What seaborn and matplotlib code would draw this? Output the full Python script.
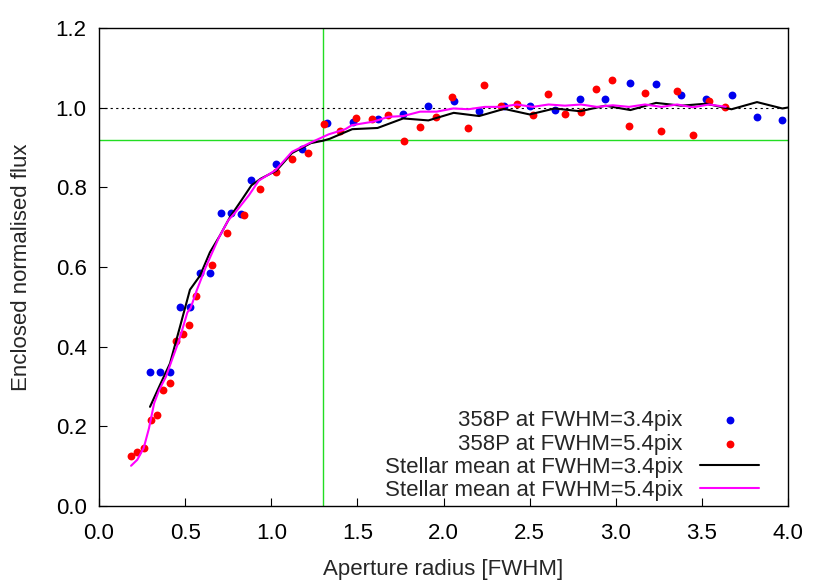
import numpy as np
import pandas as pd
import matplotlib
matplotlib.use("Agg")
import matplotlib.pyplot as plt
from matplotlib.ticker import MultipleLocator, FormatStrFormatter
import seaborn as sns

# Pontos medidos do cometa 358P (raio em FWHM, fluxo normalizado)
raio_34 = [0.296, 0.354, 0.412, 0.470, 0.528, 0.586, 0.646, 0.706, 0.766, 0.824,
           0.885, 1.030, 1.177, 1.324, 1.472, 1.617, 1.766, 1.912, 2.059, 2.207,
           2.352, 2.500, 2.645, 2.794, 2.940, 3.085, 3.234, 3.380, 3.525, 3.672,
           3.820, 3.967]
fluxo_34 = [0.337, 0.337, 0.337, 0.500, 0.499, 0.586, 0.585, 0.736, 0.735, 0.733,
            0.819, 0.858, 0.895, 0.962, 0.964, 0.972, 0.985, 1.005, 1.016, 0.991,
            1.004, 1.004, 0.995, 1.021, 1.021, 1.061, 1.060, 1.032, 1.022, 1.033,
            0.976, 0.968]

raio_54 = [0.186, 0.222, 0.261, 0.300, 0.335, 0.373, 0.412, 0.447, 0.486, 0.524,
           0.561, 0.654, 0.745, 0.840, 0.935, 1.028, 1.121, 1.214, 1.306, 1.398,
           1.492, 1.586, 1.679, 1.772, 1.863, 1.957, 2.050, 2.144, 2.237, 2.331,
           2.424, 2.517, 2.609, 2.703, 2.796, 2.888, 2.981, 3.076, 3.168, 3.263,
           3.355, 3.447, 3.541, 3.635]
fluxo_54 = [0.126, 0.136, 0.146, 0.216, 0.229, 0.292, 0.310, 0.413, 0.432, 0.455,
            0.528, 0.606, 0.686, 0.730, 0.795, 0.839, 0.872, 0.885, 0.959, 0.942,
            0.974, 0.972, 0.981, 0.916, 0.951, 0.976, 1.026, 0.948, 1.057, 1.004,
            1.008, 0.981, 1.035, 0.985, 0.988, 1.046, 1.069, 0.953, 1.036, 0.941,
            1.043, 0.931, 1.017, 1.001]

# Média estelar
raio_est_34 = [0.296, 0.354, 0.412, 0.470, 0.528, 0.586, 0.644, 0.702, 0.760, 0.826,
               0.885, 0.940, 1.030, 1.120, 1.230, 1.300, 1.340, 1.470, 1.617, 1.766,
               1.912, 2.059, 2.207, 2.352, 2.500, 2.645, 2.794, 2.940, 3.085, 3.234,
               3.380, 3.525, 3.672, 3.820, 3.967, 4.050]
fluxo_est_34 = [0.249, 0.304, 0.358, 0.450, 0.543, 0.578, 0.637, 0.679, 0.725, 0.767,
                0.805, 0.822, 0.842, 0.886, 0.911, 0.917, 0.922, 0.946, 0.949, 0.973,
                0.968, 0.987, 0.979, 0.997, 0.983, 0.998, 0.991, 1.005, 0.994, 1.012,
                1.005, 1.010, 0.996, 1.014, 0.998, 1.004]

raio_est_54 = [0.186, 0.222, 0.259, 0.290, 0.320, 0.349, 0.388, 0.426, 0.465, 0.513,
               0.532, 0.567, 0.620, 0.697, 0.750, 0.793, 0.870, 0.928, 1.025, 1.120,
               1.217, 1.333, 1.430, 1.468, 1.593, 1.680, 1.767, 1.864, 1.960, 2.057,
               2.144, 2.240, 2.333, 2.425, 2.518, 2.610, 2.705, 2.798, 2.890, 2.983,
               3.077, 3.170, 3.265, 3.356, 3.448, 3.543, 3.639]
fluxo_est_54 = [0.101, 0.116, 0.145, 0.195, 0.258, 0.291, 0.324, 0.370, 0.416, 0.486,
                0.497, 0.541, 0.600, 0.675, 0.717, 0.738, 0.780, 0.817, 0.843, 0.889,
                0.910, 0.933, 0.946, 0.956, 0.965, 0.977, 0.979, 0.990, 0.990, 0.998,
                0.996, 1.002, 1.002, 1.008, 1.002, 1.008, 1.005, 1.008, 1.002, 1.006,
                1.002, 1.008, 1.002, 1.008, 1.001, 1.008, 1.002]

raio_corte = 1.3
fluxo_corte = 0.92

sns.set_style("white")
plt.rcParams['font.family'] = ['Liberation Sans', 'DejaVu Sans']
tamanho = 16

fig = plt.figure(figsize=(8.3, 5.81), dpi=100)
ax = fig.add_axes([0.1193, 0.1291, 0.8301, 0.8227])

# Linhas de referência
ax.axvline(raio_corte, color='#22dd22', lw=1.0, zorder=1)
ax.axhline(fluxo_corte, color='#22dd22', lw=1.0, zorder=1)
ax.axhline(1.0, color='black', lw=0.8, ls=(0, (2, 3)), zorder=1)

sns.scatterplot(x=raio_34, y=fluxo_34, ax=ax, color='#0000ee', s=32, linewidth=0,
                label='358P at FWHM=3.4pix', zorder=3)
sns.scatterplot(x=raio_54, y=fluxo_54, ax=ax, color='#ff0000', s=32, linewidth=0,
                label='358P at FWHM=5.4pix', zorder=3)
sns.lineplot(x=raio_est_34, y=fluxo_est_34, ax=ax, color='black', lw=1.5, sort=False,
             estimator=None, label='Stellar mean at FWHM=3.4pix', zorder=4)
sns.lineplot(x=raio_est_54, y=fluxo_est_54, ax=ax, color='#ff00ff', lw=1.5, sort=False,
             estimator=None, label='Stellar mean at FWHM=5.4pix', zorder=5)

ax.set_xlim(0, 4)
ax.set_ylim(0, 1.2)
ax.xaxis.set_major_locator(MultipleLocator(0.5))
ax.xaxis.set_minor_locator(MultipleLocator(0.25))
ax.yaxis.set_major_locator(MultipleLocator(0.2))
ax.xaxis.set_major_formatter(FormatStrFormatter('%.1f'))
ax.yaxis.set_major_formatter(FormatStrFormatter('%.1f'))
ax.tick_params(axis='both', which='major', direction='in', length=6, width=0.8,
               labelsize=tamanho, colors='black')
ax.tick_params(axis='x', which='major', pad=12)
ax.tick_params(axis='y', which='major', pad=9)
ax.tick_params(axis='x', which='minor', direction='in', length=3, width=0.8)
ax.tick_params(bottom=True, left=True, top=False, right=False)
for lado in ax.spines.values():
    lado.set_color('black')
    lado.set_linewidth(1.0)

ax.set_xlabel('Aperture radius [FWHM]', fontsize=tamanho, labelpad=11)
ax.set_ylabel('Enclosed normalised flux', fontsize=tamanho, labelpad=17)

ax.legend(loc='lower right', bbox_to_anchor=(0.981, -0.022), frameon=False,
          markerfirst=False, fontsize=tamanho, handlelength=2.65, handletextpad=0.8,
          labelspacing=0.1, borderaxespad=0.3)

plt.savefig('out.png', dpi=100)
plt.close()
